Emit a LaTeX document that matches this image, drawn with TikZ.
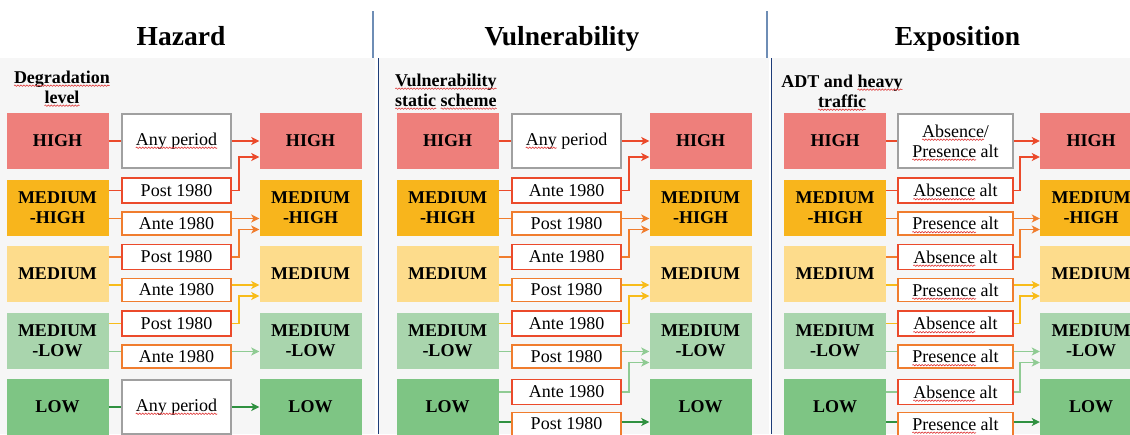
\documentclass[tikz,border=0pt]{standalone}
\usepackage{fontspec}
\setmainfont{Liberation Serif}
\usetikzlibrary{arrows.meta,decorations.pathmorphing}
\definecolor{cHigh}{HTML}{EE7F7B}
\definecolor{cMedHigh}{HTML}{F8B51C}
\definecolor{cMed}{HTML}{FDDC8C}
\definecolor{cMedLow}{HTML}{A9D5AD}
\definecolor{cLow}{HTML}{7EC584}
\definecolor{lnRed}{HTML}{EB4A2B}
\definecolor{lnOrange}{HTML}{F07D2E}
\definecolor{lnYellow}{HTML}{F8BC1A}
\definecolor{lnLightGreen}{HTML}{8FCB93}
\definecolor{lnGreen}{HTML}{2F9140}
\definecolor{boxGray}{HTML}{A0A0A0}
\definecolor{panelBg}{HTML}{F6F6F6}
\definecolor{headLine}{HTML}{6E8DB5}
\definecolor{panelLine}{HTML}{1D3C78}
\definecolor{spellRed}{HTML}{E03A3A}
% red spell-check wave under a word
\newcommand\squig[1]{\tikz[baseline=(sqw.base)]{\node[inner sep=0pt, outer sep=0pt,
    minimum width=0pt, minimum height=0pt, draw=none, fill=none] (sqw) {#1};
  \draw[overlay, spellRed, line width=0.6pt, decorate,
    decoration={snake, amplitude=0.7pt, segment length=3pt}]
    ([yshift=-2.5pt]sqw.base west) -- ([yshift=-2.5pt]sqw.base east);}}
\begin{document}
\begin{tikzpicture}[x=1pt, y=-1pt,
  level/.style={minimum width=102pt, minimum height=56pt, inner sep=0pt, align=center,
    font=\bfseries\fontsize{18}{20}\selectfont},
  midbox/.style={draw, line width=1.8pt, fill=white, minimum width=109pt, minimum height=23pt,
    inner sep=0pt, align=center, font=\fontsize{18}{20}\selectfont},
  anybox/.style={midbox, draw=boxGray, minimum height=54pt},
  redbox/.style={midbox, draw=lnRed, minimum height=25pt},
  orangebox/.style={midbox, draw=lnOrange},
  link/.style={line width=1.8pt},
  arr/.style={link, -{Stealth[length=8pt,width=8pt,inset=2pt]}},
  heading/.style={font=\bfseries\fontsize{27.5}{30}\selectfont, anchor=base, inner sep=0pt},
  subtitle/.style={font=\bfseries\fontsize{18}{20}\selectfont, inner sep=0pt}]
  \useasboundingbox (0,0) rectangle (1130,434);
  \clip (0,0) rectangle (1130,434);
  % fondo
  \fill[white] (0,0) rectangle (1130,434);
  \fill[panelBg] (0,58) rectangle (375,434);
  \fill[panelBg] (379,58) rectangle (769,434);
  \fill[panelBg] (772,58) rectangle (1130,434);
  \draw[headLine, line width=1.3pt] (373,11) -- (373,58);
  \draw[headLine, line width=1.3pt] (767,11) -- (767,58);
  \draw[panelLine, line width=1pt] (378,58) -- (378,434);
  \draw[panelLine, line width=1pt] (771,58) -- (771,434);
  % hazard
  \node[heading] (hHead) at (181,45) {Hazard};
  \node[subtitle, align=center] (hSub) at (62,87) {\squig{Degradation}\\\squig{level}};
  \node[level, fill=cHigh] (hL1) at (57.5,141) {HIGH};
  \node[level, fill=cMedHigh] (hL2) at (57.5,207.5) {MEDIUM\\-HIGH};
  \node[level, fill=cMed] (hL3) at (57.5,274) {MEDIUM};
  \node[level, fill=cMedLow] (hL4) at (57.5,340.5) {MEDIUM\\-LOW};
  \node[level, fill=cLow] (hL5) at (57.5,407) {LOW};
  \node[level, fill=cHigh] (hR1) at (310.5,141) {HIGH};
  \node[level, fill=cMedHigh] (hR2) at (310.5,207.5) {MEDIUM\\-HIGH};
  \node[level, fill=cMed] (hR3) at (310.5,274) {MEDIUM};
  \node[level, fill=cMedLow] (hR4) at (310.5,340.5) {MEDIUM\\-LOW};
  \node[level, fill=cLow] (hR5) at (310.5,407) {LOW};
  \node[anybox] (hM1) at (176.5,141) {\squig{Any period}};
  \node[redbox] (hT2) at (176.5,190.5) {Post 1980};
  \node[orangebox] (hB2) at (176.5,223.5) {Ante 1980};
  \node[redbox] (hT3) at (176.5,257) {Post 1980};
  \node[orangebox] (hB3) at (176.5,290) {Ante 1980};
  \node[redbox] (hT4) at (176.5,323.5) {Post 1980};
  \node[orangebox] (hB4) at (176.5,356.5) {Ante 1980};
  \node[anybox] (hM5) at (176.5,407) {\squig{Any period}};
  \draw[link, lnRed] (hL1) -- (hM1);
  \draw[arr, lnRed] (hM1) -- (hR1);
  \draw[link, lnRed] (hL2.east |- hT2) -- (hT2);
  \draw[arr, lnRed] (hT2.east) -- ++(7,0) |- ([yshift=-16pt]hR1.west);
  \draw[link, lnOrange] ([yshift=5pt]hL2.east |- hB2) -- ([yshift=5pt]hB2.west);
  \draw[arr, lnOrange] ([yshift=5pt]hB2.east) -- ([yshift=5pt]hR2.west |- hB2);
  \draw[link, lnOrange] (hL3.east |- hT3) -- (hT3);
  \draw[arr, lnOrange] (hT3.east) -- ++(7,0) |- ([yshift=-22pt]hR2.west);
  \draw[link, lnYellow] ([yshift=5pt]hL3.east |- hB3) -- ([yshift=5pt]hB3.west);
  \draw[arr, lnYellow] ([yshift=5pt]hB3.east) -- ([yshift=5pt]hR3.west |- hB3);
  \draw[link, lnYellow] (hL4.east |- hT4) -- (hT4);
  \draw[arr, lnYellow] (hT4.east) -- ++(7,0) |- ([yshift=-22pt]hR3.west);
  \draw[link, lnLightGreen] ([yshift=5pt]hL4.east |- hB4) -- ([yshift=5pt]hB4.west);
  \draw[arr, lnLightGreen] ([yshift=5pt]hB4.east) -- ([yshift=5pt]hR4.west |- hB4);
  \draw[link, lnGreen] (hL5) -- (hM5);
  \draw[arr, lnGreen] (hM5) -- (hR5);
  % vulnerability
  \node[heading] (vHead) at (562,45) {Vulnerability};
  \node[subtitle, align=left, anchor=west] (vSub) at (395,90) {\squig{Vulnerability}\\\squig{static} \squig{scheme}};
  \begin{scope}[xshift=390pt]
  \node[level, fill=cHigh] (vL1) at (57.5,141) {HIGH};
  \node[level, fill=cMedHigh] (vL2) at (57.5,207.5) {MEDIUM\\-HIGH};
  \node[level, fill=cMed] (vL3) at (57.5,274) {MEDIUM};
  \node[level, fill=cMedLow] (vL4) at (57.5,340.5) {MEDIUM\\-LOW};
  \node[level, fill=cLow] (vL5) at (57.5,407) {LOW};
  \node[level, fill=cHigh] (vR1) at (310.5,141) {HIGH};
  \node[level, fill=cMedHigh] (vR2) at (310.5,207.5) {MEDIUM\\-HIGH};
  \node[level, fill=cMed] (vR3) at (310.5,274) {MEDIUM};
  \node[level, fill=cMedLow] (vR4) at (310.5,340.5) {MEDIUM\\-LOW};
  \node[level, fill=cLow] (vR5) at (310.5,407) {LOW};
  \node[anybox] (vM1) at (176.5,141) {\squig{Any} period};
  \node[redbox] (vT2) at (176.5,190.5) {Ante 1980};
  \node[orangebox] (vB2) at (176.5,223.5) {Post 1980};
  \node[redbox] (vT3) at (176.5,257) {Ante 1980};
  \node[orangebox] (vB3) at (176.5,290) {Post 1980};
  \node[redbox] (vT4) at (176.5,323.5) {Ante 1980};
  \node[orangebox] (vB4) at (176.5,356.5) {Post 1980};
  \node[redbox] (vT5) at (176.5,392) {Ante 1980};
  \node[orangebox] (vB5) at (176.5,424) {Post 1980};
  \end{scope}
  \draw[link, lnRed] (vL1) -- (vM1);
  \draw[arr, lnRed] (vM1) -- (vR1);
  \draw[link, lnRed] (vL2.east |- vT2) -- (vT2);
  \draw[arr, lnRed] (vT2.east) -- ++(7,0) |- ([yshift=-16pt]vR1.west);
  \draw[link, lnOrange] ([yshift=5pt]vL2.east |- vB2) -- ([yshift=5pt]vB2.west);
  \draw[arr, lnOrange] ([yshift=5pt]vB2.east) -- ([yshift=5pt]vR2.west |- vB2);
  \draw[link, lnOrange] (vL3.east |- vT3) -- (vT3);
  \draw[arr, lnOrange] (vT3.east) -- ++(7,0) |- ([yshift=-22pt]vR2.west);
  \draw[link, lnYellow] ([yshift=5pt]vL3.east |- vB3) -- ([yshift=5pt]vB3.west);
  \draw[arr, lnYellow] ([yshift=5pt]vB3.east) -- ([yshift=5pt]vR3.west |- vB3);
  \draw[link, lnYellow] (vL4.east |- vT4) -- (vT4);
  \draw[arr, lnYellow] (vT4.east) -- ++(7,0) |- ([yshift=-22pt]vR3.west);
  \draw[link, lnLightGreen] ([yshift=5pt]vL4.east |- vB4) -- ([yshift=5pt]vB4.west);
  \draw[arr, lnLightGreen] ([yshift=5pt]vB4.east) -- ([yshift=5pt]vR4.west |- vB4);
  \draw[link, lnLightGreen] (vL5.east |- vT5) -- (vT5);
  \draw[arr, lnLightGreen] (vT5.east) -- ++(7,0) |- ([yshift=-22pt]vR4.west);
  \draw[link, lnGreen] ([yshift=2pt]vL5.east |- vB5) -- ([yshift=2pt]vB5.west);
  \draw[arr, lnGreen] ([yshift=2pt]vB5.east) -- ([yshift=2pt]vR5.west |- vB5);
  % exposition
  \node[heading] (eHead) at (957.5,45) {Exposition};
  \node[subtitle, align=center] (eSub) at (842,91) {ADT and \squig{heavy}\\\squig{traffic}};
  \begin{scope}[xshift=779pt, midbox/.append style={minimum width=115pt}]
  \node[level, fill=cHigh] (eL1) at (56,141) {HIGH};
  \node[level, fill=cMedHigh] (eL2) at (56,207.5) {MEDIUM\\-HIGH};
  \node[level, fill=cMed] (eL3) at (56,274) {MEDIUM};
  \node[level, fill=cMedLow] (eL4) at (56,340.5) {MEDIUM\\-LOW};
  \node[level, fill=cLow] (eL5) at (56,407) {LOW};
  \node[level, fill=cHigh] (eR1) at (312,141) {HIGH};
  \node[level, fill=cMedHigh] (eR2) at (312,207.5) {MEDIUM\\-HIGH};
  \node[level, fill=cMed] (eR3) at (312,274) {MEDIUM};
  \node[level, fill=cMedLow] (eR4) at (312,340.5) {MEDIUM\\-LOW};
  \node[level, fill=cLow] (eR5) at (312,407) {LOW};
  \node[anybox] (eM1) at (176.5,141) {\squig{Absence}/\\\squig{Presence} alt};
  \node[redbox] (eT2) at (176.5,190.5) {\squig{Absence} alt};
  \node[orangebox] (eB2) at (176.5,223.5) {\squig{Presence} alt};
  \node[redbox] (eT3) at (176.5,257) {\squig{Absence} alt};
  \node[orangebox] (eB3) at (176.5,290) {\squig{Presence} alt};
  \node[redbox] (eT4) at (176.5,323.5) {\squig{Absence} alt};
  \node[orangebox] (eB4) at (176.5,356.5) {\squig{Presence} alt};
  \node[redbox] (eT5) at (176.5,392) {\squig{Absence} alt};
  \node[orangebox] (eB5) at (176.5,424) {\squig{Presence} alt};
  \end{scope}
  \draw[link, lnRed] (eL1) -- (eM1);
  \draw[arr, lnRed] (eM1) -- (eR1);
  \draw[link, lnRed] (eL2.east |- eT2) -- (eT2);
  \draw[arr, lnRed] (eT2.east) -- ++(6,0) |- ([yshift=-16pt]eR1.west);
  \draw[link, lnOrange] ([yshift=5pt]eL2.east |- eB2) -- ([yshift=5pt]eB2.west);
  \draw[arr, lnOrange] ([yshift=5pt]eB2.east) -- ([yshift=5pt]eR2.west |- eB2);
  \draw[link, lnOrange] (eL3.east |- eT3) -- (eT3);
  \draw[arr, lnOrange] (eT3.east) -- ++(6,0) |- ([yshift=-22pt]eR2.west);
  \draw[link, lnYellow] ([yshift=5pt]eL3.east |- eB3) -- ([yshift=5pt]eB3.west);
  \draw[arr, lnYellow] ([yshift=5pt]eB3.east) -- ([yshift=5pt]eR3.west |- eB3);
  \draw[link, lnYellow] (eL4.east |- eT4) -- (eT4);
  \draw[arr, lnYellow] (eT4.east) -- ++(6,0) |- ([yshift=-22pt]eR3.west);
  \draw[link, lnLightGreen] ([yshift=5pt]eL4.east |- eB4) -- ([yshift=5pt]eB4.west);
  \draw[arr, lnLightGreen] ([yshift=5pt]eB4.east) -- ([yshift=5pt]eR4.west |- eB4);
  \draw[link, lnLightGreen] (eL5.east |- eT5) -- (eT5);
  \draw[arr, lnLightGreen] (eT5.east) -- ++(6,0) |- ([yshift=-22pt]eR4.west);
  \draw[link, lnGreen] ([yshift=2pt]eL5.east |- eB5) -- ([yshift=2pt]eB5.west);
  \draw[arr, lnGreen] ([yshift=2pt]eB5.east) -- ([yshift=2pt]eR5.west |- eB5);
\end{tikzpicture}
\end{document}
